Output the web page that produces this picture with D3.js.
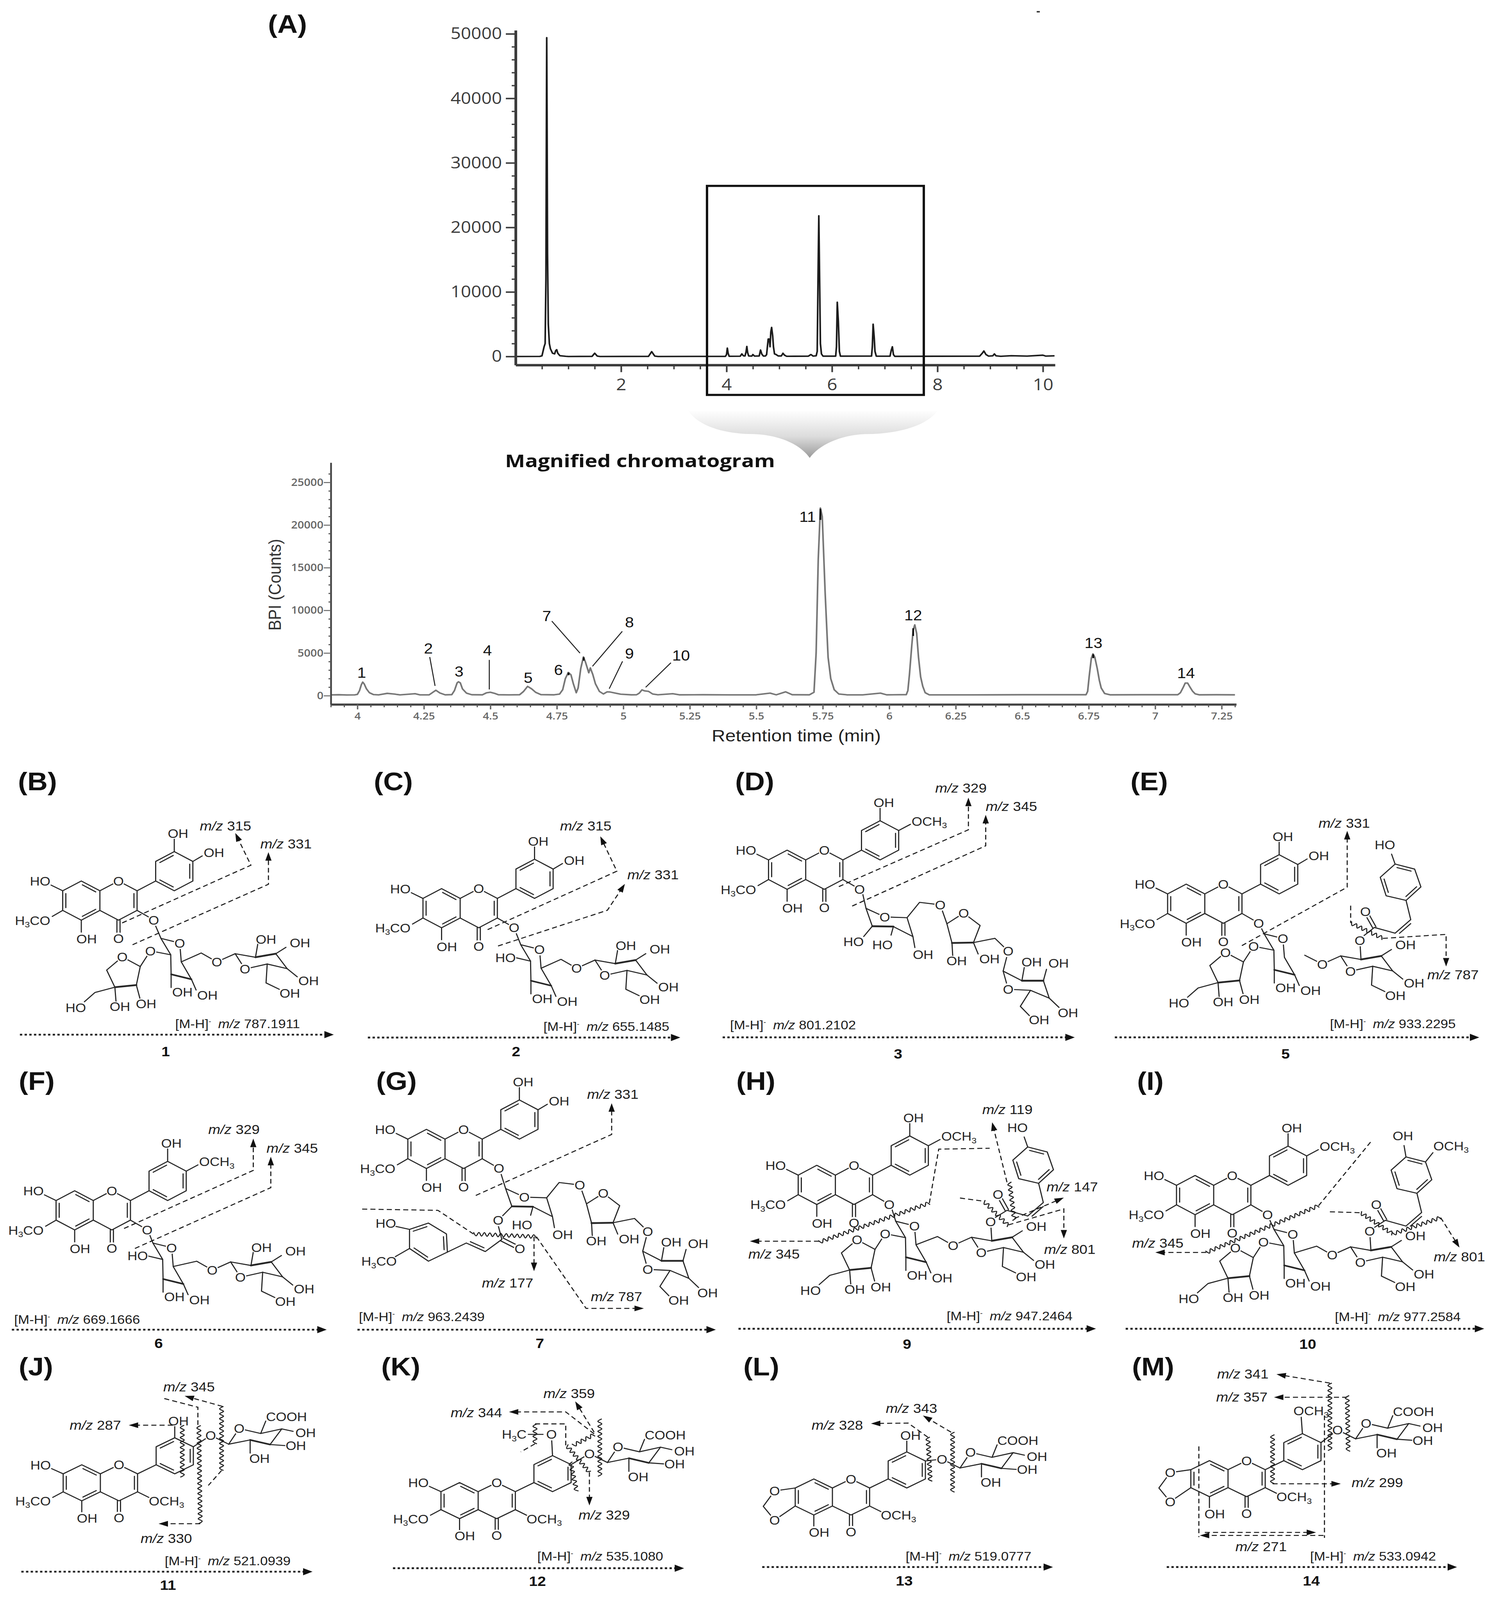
<!DOCTYPE html>
<html><head><meta charset="utf-8">
<script src="https://cdn.jsdelivr.net/npm/d3@7"></script>
<style>html,body{margin:0;padding:0;background:#fff;overflow:hidden}svg{display:block}</style></head>
<body><script>
// ---------- data: full-run chromatogram
const overviewTime=[0,0.46,0.5,0.52,0.54,0.56,0.575,0.585,0.59,0.596,0.605,0.62,0.64,0.66,0.7,0.74,0.76,0.78,0.8,0.84,0.95,1,1.45,1.5,1.55,1.6,2.52,2.58,2.64,2.7,3.98,4,4.015,4.03,4.05,4.26,4.29,4.32,4.35,4.37,4.385,4.4,4.42,4.48,4.5,4.53,4.62,4.645,4.67,4.7,4.74,4.76,4.775,4.79,4.81,4.825,4.84,4.855,4.875,4.89,4.91,4.94,4.98,5.04,5.07,5.1,5.14,5.55,5.6,5.64,5.7,5.72,5.735,5.75,5.765,5.78,5.8,5.83,6.07,6.085,6.1,6.12,6.14,6.16,6.75,6.765,6.78,6.8,6.815,6.84,7.1,7.125,7.145,7.165,7.19,8.8,8.85,8.88,8.92,8.97,9.05,9.08,9.11,9.2,9.4,9.7,10,10.05,10.22];
const overviewBPI=[0,10,100,800,1500,2000,12000,38000,49400,38000,16000,5000,2000,1200,500,400,900,1050,500,120,30,0,20,500,50,0,20,750,50,0,20,300,1300,500,30,40,400,100,80,700,1550,600,80,60,300,60,80,1000,350,60,80,300,1500,2700,2700,1500,3800,4500,3200,1500,400,300,80,80,500,200,30,40,300,60,100,800,12000,21800,12000,2000,400,50,50,1500,8400,5500,800,50,60,1500,5000,3000,800,40,40,1000,1500,300,20,50,500,850,300,60,100,400,100,30,120,60,200,60,100];
const overviewXTicks=[2,4,6,8,10];
const overviewXMinor=[0.5,1,1.5,2.5,3,3.5,4.5,5,5.5,6.5,7,7.5,8.5,9,9.5];
const overviewYTicks=[0,10000,20000,30000,40000,50000];
const overviewYMinor=[2000,4000,6000,8000,12000,14000,16000,18000,22000,24000,26000,28000,32000,34000,36000,38000,42000,44000,46000,48000];
// ---------- data: magnified chromatogram
const magTime=[3.9,3.93,3.96,3.99,4,4.008,4.015,4.02,4.026,4.034,4.045,4.06,4.08,4.112,4.14,4.16,4.217,4.235,4.27,4.295,4.31,4.33,4.355,4.365,4.375,4.38,4.387,4.395,4.41,4.43,4.47,4.485,4.5,4.515,4.53,4.57,4.61,4.625,4.64,4.655,4.67,4.69,4.74,4.76,4.772,4.782,4.793,4.803,4.812,4.823,4.83,4.84,4.85,4.858,4.87,4.876,4.885,4.895,4.91,4.925,4.939,4.95,4.97,4.99,5.03,5.05,5.06,5.07,5.08,5.095,5.11,5.13,5.186,5.21,5.3,5.4,5.5,5.552,5.575,5.61,5.635,5.7,5.717,5.725,5.733,5.741,5.748,5.759,5.77,5.78,5.793,5.81,5.84,5.9,5.967,5.99,6.064,6.07,6.076,6.085,6.09,6.096,6.103,6.11,6.118,6.126,6.135,6.15,6.3,6.5,6.74,6.746,6.752,6.76,6.766,6.773,6.782,6.79,6.797,6.81,6.83,6.95,7.085,7.095,7.105,7.113,7.122,7.13,7.14,7.15,7.165,7.23,7.3];
const magBPI=[90,110,80,90,150,600,1300,1590,1350,800,350,130,90,270,180,90,230,90,100,640,320,100,120,600,1500,1630,1500,800,300,110,100,330,400,280,110,90,110,500,1090,800,400,120,100,180,700,2000,2720,2450,1400,340,900,3200,4540,3900,2680,3250,2500,1400,500,200,450,430,300,170,100,110,300,680,560,500,200,100,230,100,110,90,100,300,100,450,110,100,400,5000,16000,22000,21000,12000,4500,2000,700,200,100,90,300,100,120,600,2500,6000,7700,8300,7300,4500,2200,1100,350,100,90,110,110,500,2300,4400,4900,4500,3200,1800,900,250,100,110,110,350,950,1480,1480,1050,550,220,100,110,100];
const magXTicks=[4,4.25,4.5,4.75,5,5.25,5.5,5.75,6,6.25,6.5,6.75,7,7.25];
const magYTicks=[0,5000,10000,15000,20000,25000];
const peakNames=['1','2','3','4','5','6','7','8','9','10','11','12','13','14'];
const peakLabelTime=[4.016,4.267,4.382,4.489,4.642,4.756,4.712,5.023,5.023,5.217,5.693,6.09,6.768,7.116];
const peakLabelBPI=[2108,4946,2233,4695,1523,2400,8744,7992,4361,4111,20388,8827,5572,2066];
const leaderFromTime=[4.272,4.496,4.731,4.996,4.997,5.179];
const leaderFromBPI=[4528,4194,8744,7533,4028,3860];
const leaderToTime=[4.292,4.496,4.837,4.884,4.947,5.084];
const leaderToBPI=[1148,730,4987,3443,814,981];
const tipTime=[5.741,6.09,6.767,4.851,4.794];
const tipHigh=[21900,7900,4850,4500,2700];
const tipLow=[20600,7000,4400,4100,2400];
// ---------- data: compound panels
const panelTags=['(B)','(C)','(D)','(E)','(F)','(G)','(H)','(I)','(J)','(K)','(L)','(M)'];
const compoundIds=['1','2','3','5','6','7','9','10','11','12','13','14'];
const precursorMz=['787.1911','655.1485','801.2102','933.2295','669.1666','963.2439','947.2464','977.2584','521.0939','535.1080','519.0777','533.0942'];

const W=3835,H=4493,INK='#262626',SANS='"Liberation Sans",Arial,sans-serif',UI='"Open Sans",sans-serif';
const svg=d3.select('body').append('svg').attr('width',window.innerWidth).attr('height',window.innerHeight).attr('viewBox',`0 0 ${W} ${H}`).attr('preserveAspectRatio','none');
svg.append('rect').attr('width',W).attr('height',H).attr('fill','#fff');
const defs=svg.append('defs');
const grad=defs.append('linearGradient').attr('id','sw').attr('x1',0).attr('x2',0).attr('y1',0).attr('y2',1);
grad.append('stop').attr('offset','0').attr('stop-color','#fff');
grad.append('stop').attr('offset','0.55').attr('stop-color','#dcdcdc');
grad.append('stop').attr('offset','1').attr('stop-color','#9a9a9a');

function styleAxis(g,col,w,fam,size,weight){
  g.selectAll('path.domain').attr('stroke',col).attr('stroke-width',w);
  g.selectAll('line').attr('stroke',col).attr('stroke-width',Math.max(2.5,w*0.6));
  g.selectAll('text').attr('fill',col).attr('font-family',fam).attr('font-size',size).attr('font-weight',weight);
}
function minorAxis(g,col,w){g.select('path.domain').remove();g.selectAll('text').remove();g.selectAll('line').attr('stroke',col).attr('stroke-width',w);}
// ---------- overview chart
const xTop=d3.scaleLinear().domain([0,10.23]).range([1320,2701]);
const yTop=d3.scaleLinear().domain([-1325,50552]).range([1025,85]);
const topG=svg.append('g');
topG.append('path').datum(overviewTime.map((t,i)=>[t,overviewBPI[i]]))
  .attr('d',d3.line().x(d=>xTop(d[0])).y(d=>yTop(d[1]))).attr('fill','none').attr('stroke','#1c1c1c').attr('stroke-width',4.2).attr('stroke-linejoin','round');
const ax1=topG.append('g').attr('transform','translate(1320,0)').call(d3.axisLeft(yTop).tickValues(overviewYTicks).tickFormat(d=>d).tickSize(25).tickSizeOuter(0).tickPadding(10));
styleAxis(ax1,'#3c3c3c',7,UI,46,400);
const ax1m=topG.append('g').attr('transform','translate(1320,0)').call(d3.axisLeft(yTop).tickValues(overviewYMinor).tickSize(10).tickSizeOuter(0));
minorAxis(ax1m,'#3c3c3c',3.6);
const ax2=topG.append('g').attr('transform','translate(0,1025)').call(d3.axisBottom(xTop).tickValues(overviewXTicks).tickFormat(d=>d).tickSize(20).tickSizeOuter(0).tickPadding(18));
styleAxis(ax2,'#3c3c3c',7,UI,46,400);
const ax2m=topG.append('g').attr('transform','translate(0,1025)').call(d3.axisBottom(xTop).tickValues(overviewXMinor).tickSize(12).tickSizeOuter(0));
minorAxis(ax2m,'#3c3c3c',3.6);
topG.append('rect').attr('x',1810).attr('y',522).attr('width',555).attr('height',587).attr('fill','none').attr('stroke','#111').attr('stroke-width',6);
topG.append('line').attr('x1',2654).attr('x2',2662).attr('y1',33).attr('y2',33).attr('stroke','#333').attr('stroke-width',4);
svg.append('path').attr('d','M1761,1152C1790,1200 1860,1219 1930,1219C2000,1222 2050,1250 2073,1286C2096,1250 2150,1222 2215,1219C2290,1219 2370,1200 2401,1152Z').attr('fill','url(#sw)');
svg.append('text').attr('x',1293).attr('y',1312).attr('font-family',UI).attr('font-weight',700).attr('font-size',50).attr('fill','#111').attr('textLength',691).attr('lengthAdjust','spacingAndGlyphs').text('Magnified chromatogram');
svg.append('text').attr('x',686).attr('y',92).attr('font-family',SANS).attr('font-weight',700).attr('font-size',72).attr('fill','#111').text('(A)');
// ---------- magnified chart
const xMag=d3.scaleLinear().domain([3.9,7.305]).range([846.9,3165]);
const yMag=d3.scaleLinear().domain([-1022,27316]).range([1978,1299]);
const magG=svg.append('g');
magG.append('path').datum(magTime.map((t,i)=>[t,magBPI[i]]))
  .attr('d',d3.line().x(d=>xMag(d[0])).y(d=>yMag(d[1]))).attr('fill','none').attr('stroke','#777').attr('stroke-width',4.2).attr('stroke-linejoin','round');
magG.selectAll('line.tip').data(tipTime).join('line').attr('class','tip').attr('x1',d=>xMag(d)).attr('x2',d=>xMag(d))
  .attr('y1',(d,i)=>yMag(tipHigh[i])).attr('y2',(d,i)=>yMag(tipLow[i])).attr('stroke','#111').attr('stroke-width',4.5);
const magMinY=d3.range(0,27000,1000).filter(v=>v%5000);
const magMinX=d3.range(3.9,7.31,0.05).map(v=>+v.toFixed(2)).filter(v=>!magXTicks.includes(v));
const ay=magG.append('g').attr('transform','translate(847,0)').call(d3.axisLeft(yMag).tickValues(magYTicks).tickFormat(d=>d).tickSize(18).tickSizeOuter(0).tickPadding(1));
styleAxis(ay,'#666',4.5,UI,29,600);ay.select('path.domain').attr('stroke','#444');
const aym=magG.append('g').attr('transform','translate(847,0)').call(d3.axisLeft(yMag).tickValues(magMinY).tickSize(6).tickSizeOuter(0));
minorAxis(aym,'#555',3);
const axb=magG.append('g').attr('transform','translate(0,1978)').call(d3.axisBottom(xMag).tickValues(magXTicks).tickFormat(d=>d).tickSize(14).tickSizeOuter(0).tickPadding(9));
styleAxis(axb,'#666',6,UI,28,600);axb.select('path.domain').attr('stroke','#444');
const axbm=magG.append('g').attr('transform','translate(0,1978)').call(d3.axisBottom(xMag).tickValues(magMinX).tickSize(8).tickSizeOuter(0));
minorAxis(axbm,'#555',3);
magG.append('text').attr('transform','translate(719,1642) rotate(-90)').attr('text-anchor','middle').attr('font-family',SANS).attr('font-size',45).attr('fill','#333').text('BPI (Counts)');
magG.append('text').attr('x',1822).attr('y',2082).attr('font-family',SANS).attr('font-size',46).attr('fill','#222').attr('textLength',433).attr('lengthAdjust','spacingAndGlyphs').text('Retention time (min)');
magG.selectAll('text.pk').data(peakNames).join('text').attr('class','pk').attr('x',(d,i)=>xMag(peakLabelTime[i])).attr('y',(d,i)=>yMag(peakLabelBPI[i])).attr('text-anchor','middle').attr('font-family',SANS).attr('font-size',41).attr('fill','#111').text(d=>d);
magG.selectAll('line.ld').data(leaderFromTime).join('line').attr('class','ld').attr('x1',d=>xMag(d)).attr('y1',(d,i)=>yMag(leaderFromBPI[i])).attr('x2',(d,i)=>xMag(leaderToTime[i])).attr('y2',(d,i)=>yMag(leaderToBPI[i])).attr('stroke','#222').attr('stroke-width',2.6);

// ---------- structure drawing helpers
const bonds=svg.append('g'),labels=svg.append('g'),anno=svg.append('g');
const frame=(kx,ky,x0,y0)=>({kx,ky,x0,y0});
const Z4=frame(1.212,.51,0,2120),Z5=frame(1.266,.51,1850,2120),Z6=frame(1.212,.51,0,2950),Z7=frame(1.266,.51,1850,2950),Z8=frame(1.212,.4675,0,3760),Z9=frame(1.266,.4675,1850,3760);
const fr=(F,x,y)=>[F.x0+F.kx*x,F.y0+F.ky*y];
const ln=d3.line();
const BOND=2.9;
function B(pts,w=BOND){bonds.append('path').attr('d',ln(pts)).attr('fill','none').attr('stroke',INK).attr('stroke-width',w).attr('stroke-linejoin','round').attr('stroke-linecap','round');}
function dbl(p,q,c,off=8){const mx=(p[0]+q[0])/2,my=(p[1]+q[1])/2,dx=q[0]-p[0],dy=q[1]-p[1],len=Math.hypot(dx,dy);let nx=-dy/len,ny=dx/len;
  if((c[0]-mx)*nx+(c[1]-my)*ny<0){nx=-nx;ny=-ny;}
  B([[p[0]+dx*.14+nx*off,p[1]+dy*.14+ny*off],[q[0]-dx*.14+nx*off,q[1]-dy*.14+ny*off]]);}
function chem(c,str,o={}){const size=o.size||35;
  if(str==='O')labels.append('ellipse').attr('cx',c[0]).attr('cy',c[1]).attr('rx',15).attr('ry',17).attr('fill','#fff');
  const t=labels.append('text').attr('x',c[0]).attr('y',c[1]+size*.36).attr('font-family',SANS).attr('font-size',size).attr('fill',INK)
   .attr('text-anchor',o.anchor||'middle').attr('stroke','#fff').attr('stroke-width',o.halo==null?5:o.halo).attr('paint-order','stroke').attr('stroke-linejoin','round');
  let back=false;
  str.split(/(\d)/).filter(s=>s).forEach(s=>{const sp=t.append('tspan').text(s);
    if(/\d/.test(s)){sp.attr('font-size',size*.66).attr('dy',size*.2);back=true;}
    else if(back){sp.attr('dy',-size*.2);back=false;}});}
function mz(F,x,y,num){const p=fr(F,x,y);const t=anno.append('text').attr('x',p[0]).attr('y',p[1]).attr('font-family',SANS).attr('font-size',37).attr('fill','#1c1c1c');
  t.append('tspan').attr('font-style','italic').text('m/z');t.append('tspan').text(' '+num);}
function precursor(F,x,y,num){const p=fr(F,x,y);const t=anno.append('text').attr('x',p[0]).attr('y',p[1]).attr('font-family',SANS).attr('font-size',35).attr('fill','#1c1c1c');
  t.append('tspan').text('[M-H]');t.append('tspan').attr('font-size',20).attr('dy',-13).text('-');t.append('tspan').attr('dy',13).attr('dx',18).attr('font-style','italic').text('m/z');t.append('tspan').text(' '+num);}
function head(a,b,len=24,hw=8){const dx=b[0]-a[0],dy=b[1]-a[1],l=Math.hypot(dx,dy),ux=dx/l,uy=dy/l;
  anno.append('path').attr('d',ln([b,[b[0]-ux*len-uy*hw,b[1]-uy*len+ux*hw],[b[0]-ux*len+uy*hw,b[1]-uy*len-ux*hw]])+'Z').attr('fill','#111');}
function dash(F,zpts,arrow=true,o={}){const pts=zpts.map(p=>fr(F,p[0],p[1]));let draw=pts;
  if(arrow){const a=pts[pts.length-2],b=pts[pts.length-1],l=Math.hypot(b[0]-a[0],b[1]-a[1]),k=(l-18)/l;draw=pts.slice(0,-1).concat([[a[0]+(b[0]-a[0])*k,a[1]+(b[1]-a[1])*k]]);}
  anno.append('path').attr('d',ln(draw)).attr('fill','none').attr('stroke','#1c1c1c').attr('stroke-width',o.w||2.8).attr('stroke-dasharray',o.d||'13 8');
  if(arrow)head(pts[pts.length-2],pts[pts.length-1]);}
function mainArrow(F,x0,x1,y){const a=fr(F,x0,y),b=fr(F,x1,y);anno.append('line').attr('x1',a[0]).attr('x2',b[0]-16).attr('y1',a[1]).attr('y2',a[1]).attr('stroke','#222').attr('stroke-width',5).attr('stroke-dasharray','6 6');head(a,b,24,10);}
function wavy(F,z0,z1){const a=fr(F,z0[0],z0[1]),b=fr(F,z1[0],z1[1]),dx=b[0]-a[0],dy=b[1]-a[1],l=Math.hypot(dx,dy),n=Math.round(l/7),nx=-dy/l,ny=dx/l,pts=[];
  for(let i=0;i<=n;i++){const s=i%2?5:-5,k=i/n;pts.push([a[0]+dx*k+nx*s,a[1]+dy*k+ny*s]);}
  anno.append('path').attr('d',d3.line().curve(d3.curveCatmullRom)(pts)).attr('fill','none').attr('stroke','#1c1c1c').attr('stroke-width',2.8);}
function flavone(F,zx,zy,o={}){const [X,Y]=fr(F,zx,zy),sy=o.sy||1,P=(x,y)=>[X+x,Y+y*sy],a=47.6,h=27.5,L=55;
  const A=[[0,0],[-a,-h],[-2*a,0],[-2*a,L],[-a,L+h],[0,L]].map(p=>P(p[0],p[1]));
  const CO=P(a,-h),C2=P(2*a,0),C3=P(2*a,L),C4=P(a,L+h);
  B(A.concat([A[0]]));B([A[0],CO,C2,C3,C4,A[5]]);
  const ca=P(-a,L/2),cc=P(a,L/2);dbl(A[0],A[1],ca);dbl(A[2],A[3],ca);dbl(A[4],A[5],ca);dbl(C2,C3,cc);
  const R=[[3*a,-h],[3*a,-h-L],[4*a,-2*h-L],[5*a,-h-L],[5*a,-h],[4*a,0]].map(p=>P(p[0],p[1]));
  B(R.concat([R[0]]));B([C2,R[0]]);const cb=P(4*a,-h-L/2);dbl(R[0],R[5],cb);dbl(R[1],R[2],cb);dbl(R[3],R[4],cb);
  chem(CO,'O');
  if(o.A==='diox'){const o1=P(-148,9),o2=P(-148,98),m=P(-177,56);B([A[2],o1,m,o2,A[3]]);chem(o1,'O');chem(o2,'O');}
  else{B([A[2],P(-125,-16)]);chem(P(-153,-27),'HO');B([A[3],P(-122,72)]);chem(P(-127,83),'H3CO',{anchor:'end'});}
  B([A[4],P(-a,116)]);chem(P(-34,135),'OH');
  B([[C4[0]-4,C4[1]],[C4[0]-4,Y+122*sy]]);B([[C4[0]+4,C4[1]],[C4[0]+4,Y+122*sy]]);chem(P(a,134),'O');
  if(o.C3==='OCH3'){B([C3,P(124,72)]);chem(P(124,83),'OCH3',{anchor:'start'});}
  else{B([C3,P(138,82)]);chem(P(138,82),'O');}
  if(o.B3!=='none'){if(o.B3==='methoxy'){}else{B([R[2],P(4*a,-145)]);chem(P(200,-161),'OH');}}
  if(o.B4==='OH'){B([R[3],P(262,-98)]);chem(P(292,-107),'OH');}
  if(o.B4==='OCH3'){B([R[3],P(268,-100)]);chem(P(271,-109),'OCH3',{anchor:'start'});}
  return {O3:P(138,82),R};}
function outerHex(a,o={}){const P=(x,y)=>[a[0]+x,a[1]+y],b=P(52,10),c=P(104,0),d=P(133,42),e=P(82,29),O=P(25,43);
  B([a,b]);B([b,c],5);B([c,d]);B([d,e]);B([e,O]);B([O,a]);chem(O,'O');
  if(o.bO){const q=P(49,-44);B([b,q]);chem(q,'O');}else{B([b,P(58,-28)]);chem(P(79,-41),'OH');}
  B([c,P(130,-18)]);chem(P(166,-31),'OH');B([d,P(159,65)]);chem(P(188,76),'OH');
  B([e,P(79,82),P(113,100)]);chem(P(140,111),'OH');}
function innerHex(c1,o={}){const P=(x,y)=>[c1[0]+x,c1[1]+y],C2=P(25,46),C3=P(26,101),C4=P(78,115),C5=P(52,66),O=P(48,13);
  const off=o.off||[190,43],outer=P(off[0],off[1]);
  B([c1,O,C5,C4]);B([C4,C3],4.5);B([C3,C2,c1]);chem(O,'O');
  B([C3,P(26,138)]);chem(P(55,151),'OH');B([C4,P(90,145)]);chem(P(119,159),'OH');
  const lk=P(off[0]-47,off[1]+23);
  if(o.gap)B([P(off[0]-92,off[1]-2),lk]);else B([C5,P(off[0]-87,off[1]-2),lk]);
  B([lk,outer]);chem(lk,'O');
  outerHex(outer,o);
  if(o.apiose){const q=P(-27,35),a=P(-53,79);B([C2,q,a]);chem(q,'O');
    const r=(x,y)=>[a[0]+x,a[1]+y],ro=r(-46,-27),p1=r(-86,10),p2=r(-65,58),p3=r(-10,52);
    B([a,ro,p1,p2]);B([p2,p3],5);B([p3,a]);chem(ro,'O');
    B([p2,r(-62,99)]);chem(r(-52,112),'OH');B([p3,r(-1,89)]);chem(r(15,105),'OH');
    B([p2,r(-116,73),r(-143,99)]);chem(r(-165,115),'HO');}
  else{B([C2,P(-14,36)]);chem(P(-39,36),'HO');}}
function triChain(c1,o={}){const P=(x,y)=>[c1[0]+x,c1[1]+y],p=P(16,50),q=P(70,51),r=P(120,79),s=P(105,26),O=P(48,24);
  B([c1,p]);B([p,q],5);B([q,r,s,O,c1]);chem(O,'O');
  if(o.pO){const e=P(-19,89);B([p,e]);chem(e,'O');}else{B([p,P(-6,79)]);chem(P(-32,93),'HO');}
  B([q,P(64,75)]);chem(P(42,102),'HO');B([r,P(125,110)]);chem(P(146,129),'OH');
  const l=P(190,-10),a=P(207,43);B([s,P(137,-17),l,a]);chem(l,'O');
  const A=(x,y)=>[a[0]+x,a[1]+y],ro=A(43,-30),t=A(85,5),u=A(68,53),v=A(13,54);
  B([a,ro,t,u]);B([u,v],5);B([v,a]);chem(ro,'O');B([v,A(15,92)]);chem(A(25,104),'OH');B([u,A(80,85)]);chem(A(109,98),'OH');
  const l2=A(157,77),a2=A(144,133);B([u,A(123,41),l2,a2]);chem(l2,'O');
  const C=(x,y)=>[a2[0]+x,a2[1]+y],b=C(48,27),c=C(103,27),d=C(118,76),e=C(70,54),ro2=C(13,51);
  B([a2,b]);B([b,c],5);B([c,d,e,ro2,a2]);chem(ro2,'O');B([b,C(54,-10)]);chem(C(73,-26),'OH');B([c,C(111,-5)]);chem(C(142,-22),'OH');
  B([d,C(143,102)]);chem(C(166,117),'OH');B([e,C(44,99),C(67,125)]);chem(C(92,137),'OH');}
function cinnamoyl(c0,target,o={}){const P=(x,y)=>[c0[0]+x,c0[1]+y],a1=P(53,16),a2=P(93,-22),r1=P(81,-76),r2=P(30,-89),r3=P(15,-141),r4=P(53,-178),r5=P(103,-164),r6=P(119,-114),cen=P(67,-127);
  B([r1,r2,r3,r4,r5,r6,r1]);dbl(r4,r5,cen);dbl(r3,r2,cen);dbl(r6,r1,cen);
  B([c0,a1,a2,r1]);dbl(a1,a2,P(110,20),8);
  const ox=P(-23,-45);B([[c0[0]-4,c0[1]+2],[ox[0]-4,ox[1]+2]]);B([[c0[0]+4,c0[1]-2],[ox[0]+4,ox[1]-2]]);chem(ox,'O');
  B([c0,target]);
  if(o.feru){B([r4,P(48,-210)]);chem(P(45,-237),'OH');B([r5,P(122,-190)]);chem(P(123,-209),'OCH3',{anchor:'start'});}
  else{B([r4,P(44,-206)]);chem(P(27,-232),'HO');}}
function glucuronide(a){const P=(x,y)=>[a[0]+x,a[1]+y],b=P(55,-12),c=P(106,1),d=P(136,-43),e=P(82,-30),O=P(27,-44);
  B([a,b]);B([b,c],4.5);B([c,d,e,O,a]);chem(O,'O');
  B([d,P(165,-36)]);chem(P(197,-32),'OH');B([c,P(145,4)]);chem(P(172,4),'OH');B([b,P(55,25)]);chem(P(79,40),'OH');B([e,P(95,-65)]);chem(P(148,-77),'COOH');
  const L=P(-46,-25);B([L,a]);chem(L,'O');return L;}

// ---------- panel furniture
const tagX=[46,957,1882,2894,48,963,1885,2911,48,976,1903,2898];
const tagY=[2219,2219,2219,2219,3060,3060,3060,3060,3862,3862,3862,3862];
panelTags.forEach((t,i)=>svg.append('text').attr('x',tagX[i]).attr('y',tagY[i]).attr('font-family',SANS).attr('font-weight',700).attr('font-size',72).attr('fill','#111').text(t));
const idX=[424,1321,2299,3291,406,1382,2322,3348,430,1376,2315,3357];
const idY=[2966,2966,2973,2973,3786,3786,3788,3788,4464,4454,4452,4452];
compoundIds.forEach((t,i)=>svg.append('text').attr('x',idX[i]).attr('y',idY[i]).attr('text-anchor','middle').attr('font-family',SANS).attr('font-weight',700).attr('font-size',39).attr('fill','#111').text(t));
const frames=[Z4,Z4,Z5,Z5,Z6,Z6,Z7,Z7,Z8,Z8,Z9,Z9];
const mzLeft=[370,1148,15,1228,30,758,453,1238,348,1135,370,1188];
const mzBase=[1505,1520,1510,1505,1505,1490,1485,1490,1360,1330,1330,1330];
const arrowX0=[42,777,0,793,25,755,32,815,45,830,80,898];
const arrowX1=[705,1437,712,1530,690,1512,755,1540,660,1445,668,1485];
const arrowY=[1540,1556,1555,1555,1537,1537,1532,1532,1398,1377,1370,1370];
precursorMz.forEach((m,i)=>{precursor(frames[i],mzLeft[i],mzBase[i],m);mainArrow(frames[i],arrowX0[i],arrowX1[i],arrowY[i]);});

// (B) 1
flavone(Z4,211,748,{B4:'OH'});B([fr(Z4,326,925),fr(Z4,340,1010)]);innerHex(fr(Z4,340,1010),{apiose:true});
mz(Z4,422,415,315);mz(Z4,550,515,331);dash(Z4,[[258,925],[530,607],[497,430]]);dash(Z4,[[280,1045],[567,712],[567,535]]);
// (C) 2
flavone(Z4,972,790,{B4:'OH'});B([fr(Z4,1087,960),fr(Z4,1100,1045)]);innerHex(fr(Z4,1100,1045));
mz(Z4,1183,415,315);mz(Z4,1325,685,331);dash(Z4,[[1030,962],[1303,640],[1268,448]]);dash(Z4,[[1052,1052],[1283,855],[1320,710]]);
// (D) 3
flavone(Z5,168,578,{B4:'OCH3'});B([fr(Z5,282,750),fr(Z5,290,845)]);triChain(fr(Z5,290,845));
mz(Z5,430,207,329);mz(Z5,532,308,345);dash(Z5,[[235,725],[497,412],[497,235]]);dash(Z5,[[262,832],[532,500],[532,330]]);
// (E) 5
flavone(Z5,975,765,{B4:'OH'});B([fr(Z5,1087,940),fr(Z5,1095,985)]);innerHex(fr(Z5,1095,985),{apiose:true,off:[196,62],bO:true,gap:true});
cinnamoyl(fr(Z5,1318,950),fr(Z5,1292,1005));
mz(Z5,1205,400,331);mz(Z5,1425,1235,787);dash(Z5,[[1050,1050],[1263,728],[1263,418]]);dash(Z5,[[1270,830],[1270,925]],false);wavy(Z5,[1270,925],[1335,1010]);dash(Z5,[[1335,1010],[1463,988],[1463,1165]]);
// (F) 6
flavone(Z6,197,826,{B4:'OCH3'});B([fr(Z6,314,1000),fr(Z6,323,1060)]);innerHex(fr(Z6,323,1060),{off:[199,53]});
mz(Z6,440,460,329);mz(Z6,563,562,345);dash(Z6,[[262,980],[535,660],[535,485]]);dash(Z6,[[285,1090],[572,755],[572,585]]);
// (G) 7
flavone(Z6,940,488,{B4:'OH'});B([fr(Z6,1056,660),fr(Z6,1068,760)]);triChain(fr(Z6,1068,760),{pO:true});
const gR=[[945,1110],[943,1010],[905,950],[865,985],[865,1090],[905,1160]].map(p=>fr(Z6,p[0],p[1])),gC=fr(Z6,905,1055);
B(gR.concat([gR[0]]));dbl(gR[0],gR[1],gC);dbl(gR[2],gR[3],gC);dbl(gR[4],gR[5],gC);
const gc=fr(Z6,1060,1040),ga1=fr(Z6,1025,1107),ga2=fr(Z6,985,1060);B([gR[0],ga2,ga1,gc]);dbl(ga2,ga1,fr(Z6,1040,1010));B([gc,fr(Z6,1052,960)]);
const gox=fr(Z6,1098,1090);B([[gc[0]-3,gc[1]+4],[gox[0]-3,gox[1]+4]]);B([[gc[0]+3,gc[1]-4],[gox[0]+3,gox[1]-4]]);chem(gox,'O');
B([gR[3],fr(Z6,830,965)]);chem(fr(Z6,815,950),'HO');B([gR[4],fr(Z6,835,1135)]);chem(fr(Z6,838,1160),'H3CO',{anchor:'end'});
mz(Z6,1240,265,331);mz(Z6,1018,1305,177);mz(Z6,1248,1380,787);
dash(Z6,[[1005,798],[1292,462],[1292,290]]);dash(Z6,[[765,873],[925,880],[1000,1010]],false);wavy(Z6,[1000,1010],[1133,1025]);dash(Z6,[[1128,1025],[1128,1215]]);dash(Z6,[[1133,1025],[1238,1420],[1360,1420]]);
// (H) 9
flavone(Z7,228,686,{B4:'OCH3'});B([fr(Z7,342,870),fr(Z7,350,940)]);innerHex(fr(Z7,350,940),{apiose:true,off:[194,45],bO:true});
cinnamoyl(fr(Z7,575,880),fr(Z7,548,925));
mz(Z7,525,350,119);mz(Z7,655,775,147);mz(Z7,650,1120,801);mz(Z7,52,1145,345);
wavy(Z7,[195,1055],[418,840]);dash(Z7,[[195,1050],[55,1050]]);dash(Z7,[[418,840],[437,543],[540,538]],false);dash(Z7,[[575,725],[545,395]]);wavy(Z7,[580,725],[590,935]);
dash(Z7,[[480,812],[528,830]],false);wavy(Z7,[528,830],[578,965]);dash(Z7,[[578,960],[690,872],[690,1035]]);dash(Z7,[[590,925],[690,810]]);
// (I) 10
flavone(Z7,993,742,{B4:'OCH3'});B([fr(Z7,1105,925),fr(Z7,1115,985)]);innerHex(fr(Z7,1115,985),{apiose:true,off:[196,49],bO:true});
cinnamoyl(fr(Z7,1340,935),fr(Z7,1312,985),{feru:true});
mz(Z7,828,1085,345);mz(Z7,1438,1160,801);
wavy(Z7,[978,1112],[1205,855]);dash(Z7,[[978,1112],[875,1112]]);dash(Z7,[[1205,855],[1313,495]],false);dash(Z7,[[1228,888],[1290,893]],false);wavy(Z7,[1290,893],[1355,1010]);wavy(Z7,[1355,1010],[1452,920]);dash(Z7,[[1452,920],[1490,1085]]);
// (J) 11
const fJ=flavone(Z8,212,810,{sy:.92,C3:'OCH3'});B([fJ.R[3],glucuronide(fr(Z8,483,632))]);
mz(Z8,345,315,345);mz(Z8,147,545,287);mz(Z8,297,1225,330);
dash(Z8,[[347,358],[418,410],[418,520]],false);wavy(Z8,[420,520],[423,1110]);dash(Z8,[[423,1110],[335,1110]]);dash(Z8,[[470,405],[390,342]]);wavy(Z8,[468,405],[468,790]);dash(Z8,[[468,790],[440,880]],false);dash(Z8,[[365,518],[272,518]]);wavy(Z8,[385,518],[385,830]);
// (K) 12
const fK=flavone(Z8,1010,917,{sy:.92,C3:'OCH3',B3:'methoxy'});B([fK.R[3],glucuronide(fr(Z8,1283,742))]);B([fK.R[2],fr(Z8,1165,590)]);chem(fr(Z8,1165,573),'O');chem(fr(Z8,1060,573),'H3C',{anchor:'start'});
anno.append('line').attr('x1',fr(Z8,1115,573)[0]).attr('x2',fr(Z8,1148,573)[0]).attr('y1',fr(Z8,0,573)[1]).attr('y2',fr(Z8,0,573)[1]).attr('stroke','#222').attr('stroke-width',2.8);
mz(Z8,1148,355,359);mz(Z8,952,470,344);mz(Z8,1222,1085,329);
wavy(Z8,[1267,480],[1267,825]);dash(Z8,[[1255,560],[1215,375]]);wavy(Z8,[1255,575],[1210,640]);dash(Z8,[[1255,570],[1195,438],[1075,438]]);wavy(Z8,[1197,640],[1245,800]);dash(Z8,[[1245,800],[1245,1000]]);wavy(Z8,[1205,740],[1218,915]);
wavy(Z8,[1130,510],[1130,630]);dash(Z8,[[1130,630],[1100,678]],false);dash(Z8,[[1130,510],[1195,510],[1195,640]],false);
// (L) 13
const fL=flavone(Z9,222,895,{sy:.92,C3:'OCH3',A:'diox'});B([fL.R[3],glucuronide(fr(Z9,480,775))]);
mz(Z9,330,445,343);mz(Z9,180,545,328);
dash(Z9,[[415,590],[375,505],[300,508]]);wavy(Z9,[415,590],[420,855]);dash(Z9,[[462,560],[405,460]]);wavy(Z9,[465,560],[465,920]);
// (M) 14
const fM=flavone(Z9,1022,785,{sy:.92,C3:'OCH3',A:'diox',B3:'methoxy'});B([fM.R[3],glucuronide(fr(Z9,1280,600))]);B([fM.R[2],fr(Z9,1170,470)]);chem(fr(Z9,1190,430),'OCH3');
mz(Z9,1000,238,341);mz(Z9,998,377,357);mz(Z9,1272,890,299);mz(Z9,1037,1275,271);
dash(Z9,[[1228,265],[1120,212]]);wavy(Z9,[1228,265],[1228,670]);dash(Z9,[[1263,350],[1115,350]]);wavy(Z9,[1263,340],[1265,675]);wavy(Z9,[1112,575],[1112,870]);dash(Z9,[[1112,870],[1250,870]]);
dash(Z9,[[1217,460],[1217,1195]],false);dash(Z9,[[963,645],[963,1190]],false);dash(Z9,[[975,1162],[1200,1162]]);dash(Z9,[[1215,1180],[965,1180]]);
</script></body></html>
